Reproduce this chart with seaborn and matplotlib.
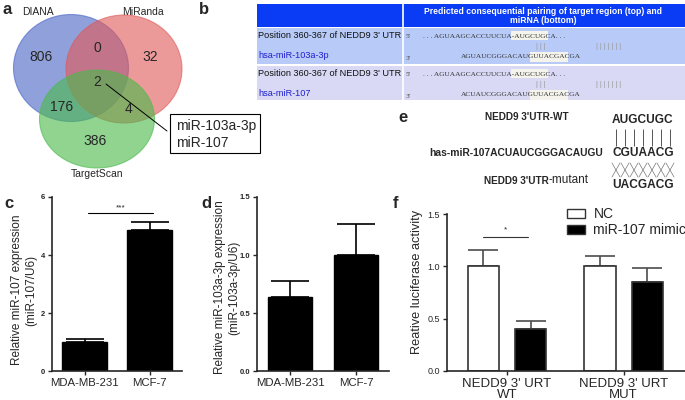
import numpy as np
import pandas as pd
import matplotlib
matplotlib.use("Agg")
import matplotlib.pyplot as plt
import seaborn as sns
from matplotlib.patches import Ellipse, Rectangle, Patch

W, H = 685, 400

# ---------- data ----------
venn_sets = ["DIANA", "MiRanda", "TargetScan"]
venn_regions = ["D", "M", "T", "DM", "DT", "MT", "DMT"]
venn_counts = [806, 32, 386, 0, 176, 4, 2]
venn_common = ["miR-103a-3p", "miR-107"]

pair_header = "Predicted consequential pairing of target region (top) and\nmiRNA (bottom)"
pair_site = "Position 360-367 of NEDD9 3' UTR"
pair_mirnas = ["hsa-miR-103a-3p", "hsa-miR-107"]
pair_target = ". . . AGUAAGCACCUUCUA-AUGCUGCA. . ."
pair_mirna_seqs = ["AGUAUCGGGACAUGUUACGACGA", "ACUAUCGGGACAUGUUACGACGA"]

mut_labels = ["NEDD9 3'UTR-WT", "has-miR-107ACUAUCGGGACAUGU", "NEDD9 3'UTR", "-mutant"]
mut_seqs = ["AUGCUGC", "CGUAACG", "UACGACG"]

cells = ["MDA-MB-231", "MCF-7"]
mir107_expr = [1.0, 4.85]
mir107_sem = [0.10, 0.30]
mir103_expr = [0.64, 1.0]
mir103_sem = [0.14, 0.27]

luc_constructs = ["NEDD9 3' URT\nWT", "NEDD9 3' URT\nMUT"]
luc_groups = ["NC", "miR-107 mimic"]
luc_nc = [1.0, 1.0]
luc_nc_sem = [0.16, 0.10]
luc_mimic = [0.40, 0.85]
luc_mimic_sem = [0.08, 0.13]

# ---------- figure ----------
sns.set_style("ticks")
plt.rcParams["font.family"] = ["Liberation Sans", "DejaVu Sans"]
plt.rcParams["axes.linewidth"] = 1.2
fig = plt.figure(figsize=(6.85, 4.0), dpi=100)


def px_axes(x0, y0, x1, y1):
    return fig.add_axes([x0 / W, 1 - y1 / H, (x1 - x0) / W, (y1 - y0) / H])


bg = fig.add_axes([0, 0, 1, 1])
bg.set_xlim(0, W)
bg.set_ylim(H, 0)
bg.axis("off")

for lab, (x, y) in zip("abcdef", [(3, 9), (199, 9), (4, 204), (201, 204), (398, 117), (393, 203)]):
    bg.text(x, y, lab, fontsize=12, fontweight="bold", va="center")

# ---------- a: venn ----------
venn_geom = [((71, 68), 115, 107, "#4a66c4"), ((124, 69), 116, 108, "#e05a5a"), ((97, 119), 115, 98, "#4cba4c")]
for (c, w, h, col) in venn_geom:
    bg.add_patch(Ellipse(c, w, h, facecolor=col, alpha=0.62, edgecolor=col, lw=0.8))
for name, (x, y) in zip(venn_sets, [(38, 12), (143, 12), (97, 174)]):
    bg.text(x, y, name, fontsize=7.5, ha="center", va="center")
count_pos = [(41, 57), (150, 57), (95, 141), (97, 48), (62, 107), (129, 109), (97, 82)]
for n, (x, y) in zip(venn_counts, count_pos):
    bg.text(x, y, str(n), fontsize=10, ha="center", va="center")
bg.plot([106, 167], [84, 131], color="black", lw=0.7)
bg.add_patch(Rectangle((170, 114), 90, 39, facecolor="white", edgecolor="black", lw=0.8))
bg.text(176, 126, venn_common[0], fontsize=10, va="center")
bg.text(176, 143, venn_common[1], fontsize=10, va="center")

# ---------- b: pairing table ----------
bg.add_patch(Rectangle((257, 4), 428, 23, facecolor="#0a3cf5", edgecolor="none"))
bg.add_patch(Rectangle((257, 28), 428, 36, facecolor="#b8cbf8", edgecolor="none"))
bg.add_patch(Rectangle((257, 66), 428, 34, facecolor="#d9d9f5", edgecolor="none"))
bg.plot([403, 403], [4, 100], color="white", lw=1.2)
bg.text(543, 16, pair_header, color="white", fontsize=6.2, fontweight="bold",
        ha="center", va="center", linespacing=1.1)
for i, (top, mir, seq) in enumerate(zip([28, 66], pair_mirnas, pair_mirna_seqs)):
    bg.text(258, top + 8, pair_site, fontsize=6.6, va="center", color="#111111")
    bg.text(258, top + 28, mir, fontsize=6.6, va="center", color="#1f1fd0")
    bg.add_patch(Rectangle((511, top + 3), 37, 9, facecolor="#f4f4ec", edgecolor="none"))
    bg.add_patch(Rectangle((530, top + 24), 38, 10, facecolor="#f4f4ec", edgecolor="none"))
    bg.text(406, top + 8, "5'", fontsize=5.3, va="center", family="Liberation Serif", color="#444444")
    bg.text(406, top + 30, "3'", fontsize=5.3, va="center", family="Liberation Serif", color="#444444")
    bg.text(423, top + 8, pair_target, fontsize=5.3, va="center", family="Liberation Serif", color="#333333")
    bg.text(461, top + 29, seq, fontsize=5.3, va="center", family="Liberation Serif", color="#333333")
    bg.text(536, top + 18, "| | |", fontsize=5, va="center", color="#999999")
    bg.text(596, top + 18, "| | | | | | |", fontsize=5, va="center", color="#999999")

# ---------- e: mutant design ----------
bg.text(527, 117, mut_labels[0], fontsize=7.2, fontweight="bold", ha="center", va="center")
bg.text(603, 153, mut_labels[1], fontsize=7.4, fontweight="bold", ha="right", va="center")
bg.text(549, 181, mut_labels[2], fontsize=7.2, fontweight="bold", ha="right", va="center")
bg.text(549, 180, mut_labels[3], fontsize=8.5, ha="left", va="center")
for seq, y in zip(mut_seqs, [120, 153, 185]):
    bg.text(643, y, seq, fontsize=8.6, fontweight="bold", ha="center", va="center")
xs = np.linspace(616, 670, 7)
bg.vlines(xs, 129, 146, color="#555555", lw=0.7)
for x in xs:
    bg.plot([x - 4, x + 4], [163, 177], color="#777777", lw=0.5)
    bg.plot([x - 4, x + 4], [177, 163], color="#777777", lw=0.5)


def style_axes(ax, bold_ticks, xsize):
    sns.despine(ax=ax)
    ax.tick_params(axis="both", length=3, width=1, pad=2)
    ax.set_xlabel("")
    for t in ax.get_yticklabels():
        t.set_fontsize(5.5 if bold_ticks else 6.5)
        t.set_fontweight("bold" if bold_ticks else "normal")
    for t in ax.get_xticklabels():
        t.set_fontsize(xsize)


def add_errorbars(ax, sems, color, cap):
    for p, e in zip(ax.patches, sems):
        x = p.get_x() + p.get_width() / 2
        ax.errorbar(x, p.get_height(), yerr=[[0], [e]], color=color,
                    capsize=cap, elinewidth=1.2, capthick=1.2, zorder=0)


# ---------- c ----------
ax_c = px_axes(52, 197, 182, 371)
df_c = pd.DataFrame({"cell": cells, "expr": mir107_expr})
sns.barplot(data=df_c, x="cell", y="expr", ax=ax_c, color="black",
            edgecolor="black", width=0.68, errorbar=None, saturation=1)
add_errorbars(ax_c, mir107_sem, "black", 14)
ax_c.set_ylim(0, 6)
ax_c.set_yticks([0, 2, 4, 6])
ax_c.set_xlim(-0.5, 1.5)
ax_c.plot([0.05, 1.05], [5.45, 5.45], color="black", lw=0.8)
ax_c.text(0.55, 5.5, "***", fontsize=6, ha="center", va="bottom")
ax_c.set_ylabel("Relative miR-107 expression\n(miR-107/U6)", fontsize=8.5)
ax_c.yaxis.set_label_coords(-0.115, 0.465)
style_axes(ax_c, True, 8.2)

# ---------- d ----------
ax_d = px_axes(257, 197, 389, 371)
df_d = pd.DataFrame({"cell": cells, "expr": mir103_expr})
sns.barplot(data=df_d, x="cell", y="expr", ax=ax_d, color="black",
            edgecolor="black", width=0.68, errorbar=None, saturation=1)
add_errorbars(ax_d, mir103_sem, "black", 14)
ax_d.set_ylim(0, 1.5)
ax_d.set_yticks([0, 0.5, 1.0, 1.5])
ax_d.set_yticklabels(["0.0", "0.5", "1.0", "1.5"])
ax_d.set_xlim(-0.5, 1.5)
ax_d.set_ylabel("Relative miR-103a-3p expression\n(miR-103a-3p/U6)", fontsize=8.5)
ax_d.yaxis.set_label_coords(-0.13, 0.48)
style_axes(ax_d, True, 8.2)

# ---------- f ----------
ax_f = px_axes(447, 214, 690, 371)
df_f = pd.DataFrame({
    "construct": luc_constructs * 2,
    "group": [luc_groups[0]] * 2 + [luc_groups[1]] * 2,
    "value": luc_nc + luc_mimic,
})
pal = {luc_groups[0]: "white", luc_groups[1]: "black"}
sns.barplot(data=df_f, x="construct", y="value", hue="group", palette=pal, ax=ax_f,
            edgecolor="#333333", linewidth=1.2, width=0.81, gap=0.34,
            errorbar=None, saturation=1, legend=False)
add_errorbars(ax_f, luc_nc_sem + luc_mimic_sem, "#4d4d4d", 11)
ax_f.set_ylim(0, 1.5)
ax_f.set_yticks([0, 0.5, 1.0, 1.5])
ax_f.set_yticklabels(["0.0", "0.5", "1.0", "1.5"])
ax_f.set_xlim(-0.515, 1.57)
ax_f.plot([-0.21, 0.18], [1.28, 1.28], color="#333333", lw=0.8)
ax_f.text(-0.015, 1.31, "*", fontsize=6, ha="center", va="bottom")
ax_f.set_ylabel("Reative luciferase activity", fontsize=9.2)
ax_f.yaxis.set_label_coords(-0.1, 0.57)
style_axes(ax_f, False, 9.5)
for t in ax_f.get_xticklabels():
    t.set_linespacing(0.85)
handles = [Patch(facecolor=pal[g], edgecolor="#333333", lw=1.0) for g in luc_groups]
ax_f.legend(handles, luc_groups, loc="upper left", bbox_to_anchor=(567 / W, 1 - 207 / H),
            bbox_transform=fig.transFigure, frameon=False, borderaxespad=0, borderpad=0,
            handlelength=1.3, handleheight=0.6, labelspacing=0.15, handletextpad=0.6,
            fontsize=10)

fig.savefig("out.png", dpi=100)
